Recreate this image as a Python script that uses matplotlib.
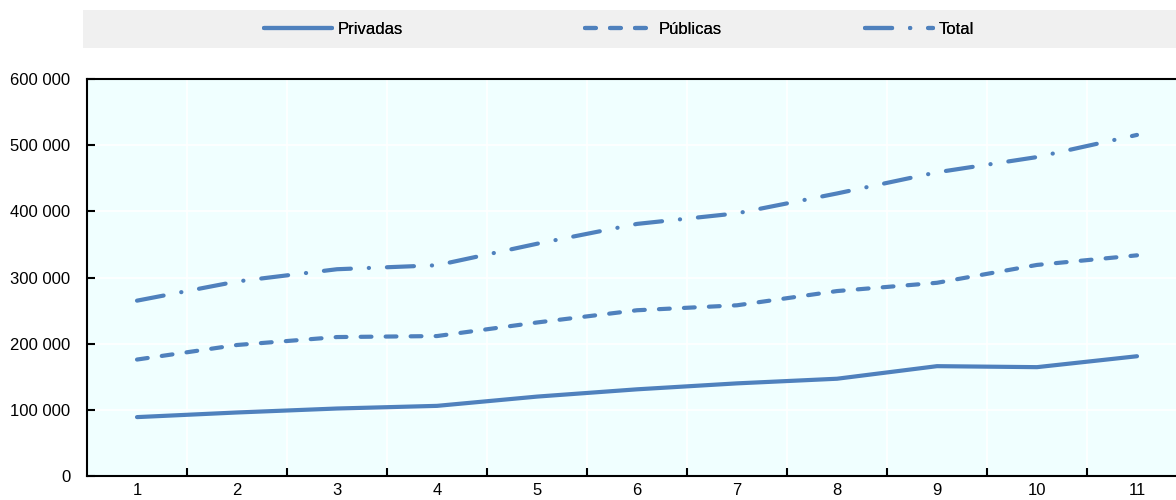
from matplotlib import pyplot as plt
from matplotlib.patches import Rectangle
import numpy as np

years = [1, 2, 3, 4, 5, 6, 7, 8, 9, 10, 11]
privadas = [89000, 96000, 102000, 106000, 120000, 131000, 140000, 147000, 166000, 164500, 181000]
publicas = [176000, 198000, 210000, 211500, 232000, 250500, 258000, 279500, 292000, 319000, 333500]
total = [265000, 294000, 312500, 318500, 351000, 381000, 397000, 427000, 459000, 482000, 515500]

plt.rcParams['font.family'] = ['Liberation Sans', 'DejaVu Sans']
color = "#4F81BD"
fs = 12

fig = plt.figure(figsize=(11.76, 5.0), dpi=100)
ax = fig.add_axes([87 / 1176, 24 / 500, 1089 / 1176, 397 / 500])
ax.set_facecolor("#F0FFFF")

l1, = ax.plot(years, privadas, color=color, lw=3, solid_capstyle="round", label="Privadas")
l2, = ax.plot(years, publicas, color=color, lw=3, ls=(0, (2.6, 3.4)), dash_capstyle="round", label="Públicas")
l3, = ax.plot(years, total, color=color, lw=3, ls=(0, (6.5, 4.3, 0.05, 4.3)), dash_capstyle="round", label="Total")

ax.set_xlim(0.5, 11.39)
ax.set_ylim(0, 600000)
ax.set_yticks(np.arange(0, 600001, 100000))
ax.set_yticklabels([f"{v:,}".replace(",", " ") for v in range(0, 600001, 100000)], fontsize=fs)

ax.set_xticks(np.arange(1.5, 11, 1))
ax.set_xticklabels([])
ax.set_xticks(years, minor=True)
ax.set_xticklabels([str(y) for y in years], minor=True, fontsize=fs)
ax.tick_params(axis="x", which="major", direction="in", length=6, width=1.5)
ax.tick_params(axis="x", which="minor", length=0, pad=5)
ax.tick_params(axis="y", direction="in", length=6, width=1.5, pad=12)

ax.grid(True, which="major", color="white", lw=1.2)
ax.set_axisbelow(True)
ax.spines["right"].set_visible(False)
for s in ["left", "bottom", "top"]:
    ax.spines[s].set_linewidth(1.5)
    ax.spines[s].set_color("black")

fig.patches.append(Rectangle((83 / 1176, 452 / 500), 1093 / 1176, 38 / 500,
                             transform=fig.transFigure, facecolor="#F0F0F0", edgecolor="none", zorder=0))
# one legend per entry so each sits where the reference puts it
for handle, x0 in [(l1, 264), (l2, 585), (l3, 865)]:
    leg = fig.legend(handles=[handle], loc="center left", bbox_to_anchor=(x0 / 1176, 471 / 500),
                     frameon=False, fontsize=fs, handlelength=4.1, handletextpad=0.3,
                     borderpad=0, borderaxespad=0)
    fig.add_artist(leg)

fig.savefig("out.png", dpi=100)
